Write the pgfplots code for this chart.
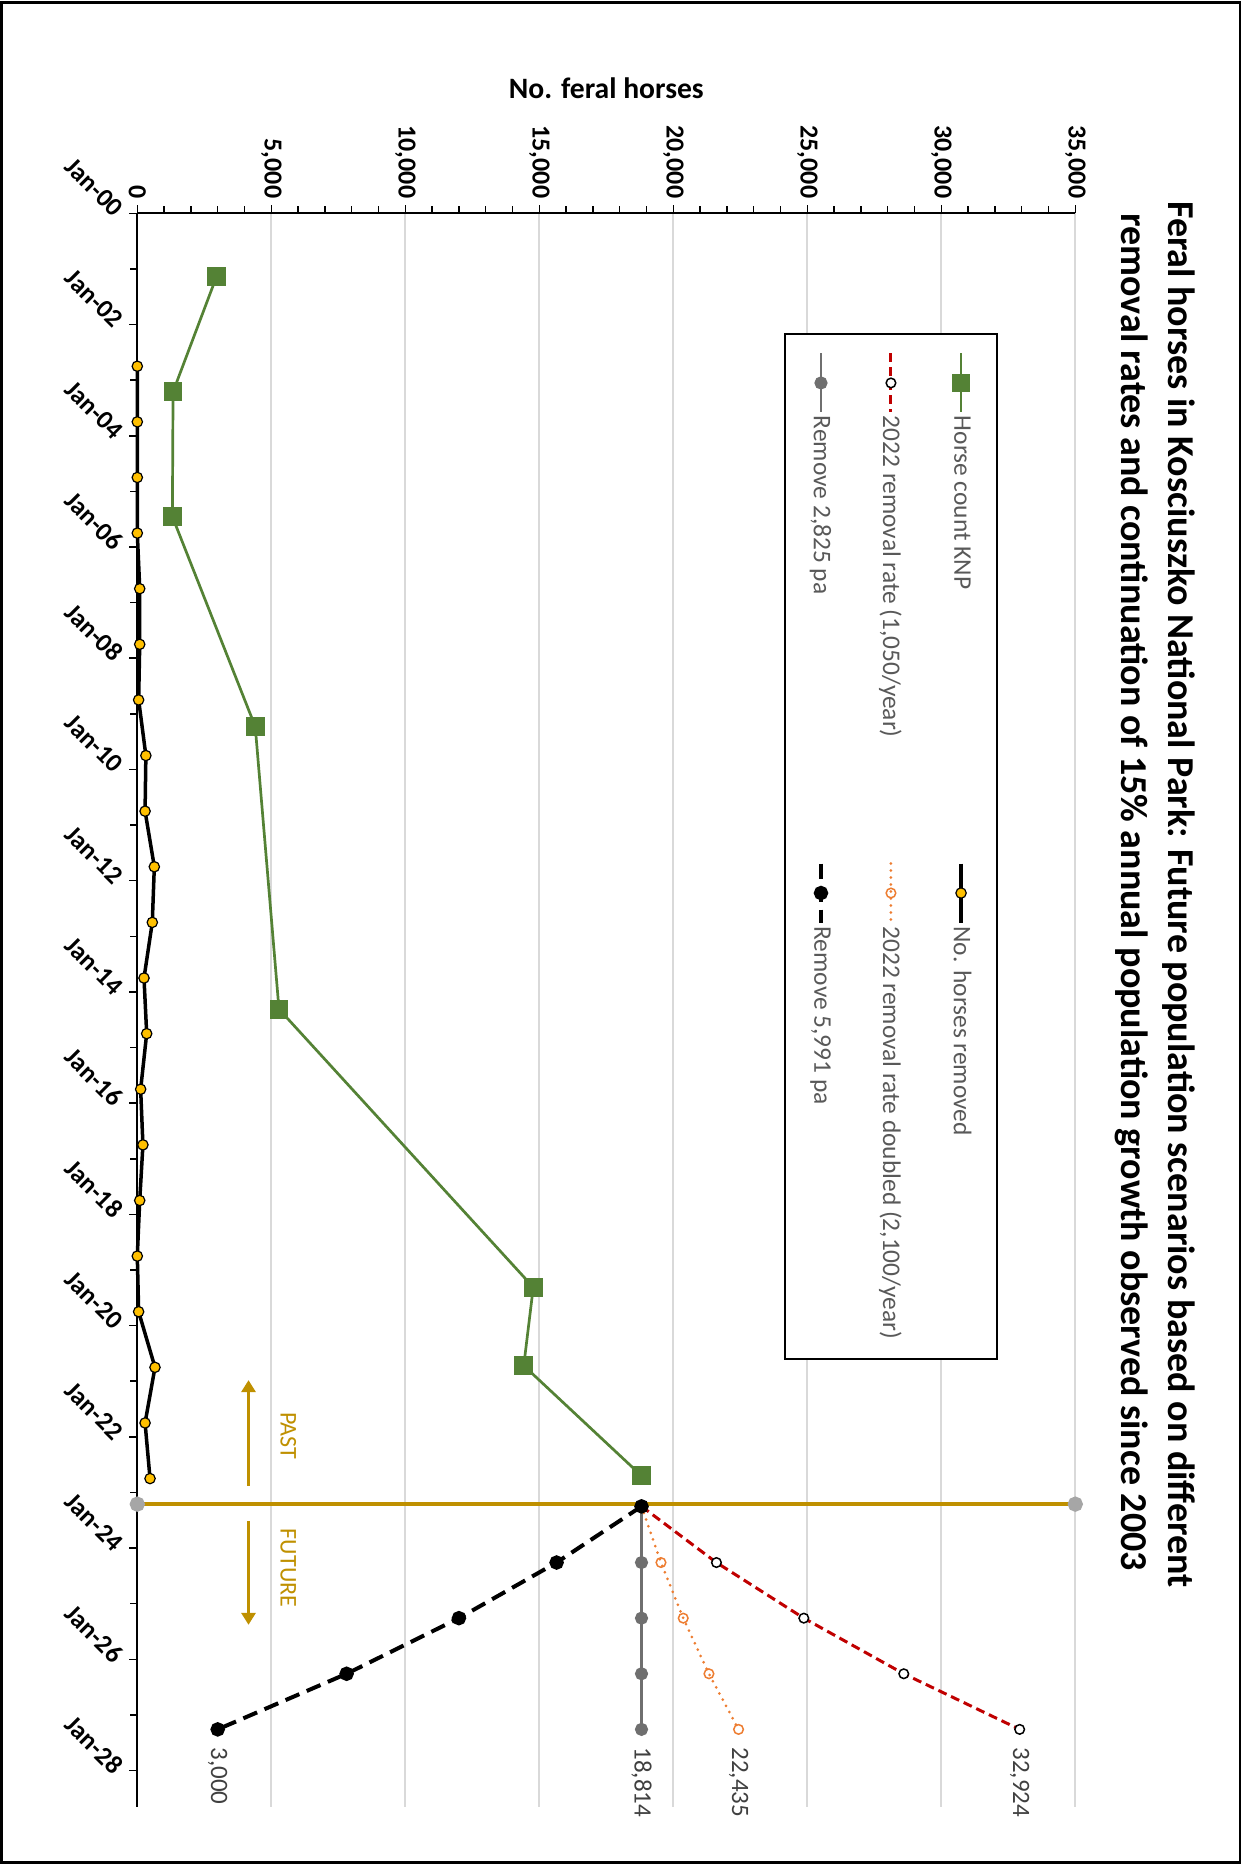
\documentclass[border=0pt]{standalone}
\usepackage{pgfplots}
\usepackage{pgfplotstable}
\pgfplotsset{compat=1.18}
\usepackage{fontspec}
\setmainfont{Carlito}
\usetikzlibrary{arrows.meta}
\definecolor{cgreen}{HTML}{548235}
\definecolor{cyellow}{HTML}{FFC000}
\definecolor{cred}{HTML}{C00000}
\definecolor{corange}{HTML}{ED7D31}
\definecolor{cgray}{HTML}{6F6F6F}
\definecolor{cgold}{HTML}{BF9000}
\definecolor{cgrid}{HTML}{D9D9D9}
\definecolor{cleg}{HTML}{595959}
\definecolor{clab}{HTML}{404040}
\definecolor{cdot}{HTML}{A6A6A6}

\pgfplotstableread{
date val
1.14 2955
3.21 1334
5.455 1309
9.23 4401
14.31 5287
19.31 14775
20.72 14420
22.70 18814
}\horsecount

\pgfplotstableread{
date val
2.75 0
3.75 0
4.75 0
5.75 0
6.75 90
7.75 90
8.75 50
9.75 320
10.75 290
11.75 635
12.75 560
13.75 250
14.75 350
15.75 125
16.75 210
17.75 90
18.75 0
19.75 50
20.75 660
21.75 290
22.75 475
}\removed

\pgfplotstableread{
date val
23.25 18814
24.26 21610
25.26 24870
26.26 28600
27.26 32924
}\redrate

\pgfplotstableread{
date val
23.25 18814
24.26 19540
25.26 20370
26.26 21330
27.26 22435
}\orangerate

\pgfplotstableread{
date val
23.25 18814
24.26 18814
25.26 18814
26.26 18814
27.26 18814
}\grayrate

\pgfplotstableread{
date val
23.25 18814
24.26 15645
25.26 12001
26.26 7810
27.26 3000
}\blackrate

\pgfplotstableread{
date val
23.21 0
23.21 35000
}\divider

\newcommand\tickfont{\fontsize{13}{15}\selectfont\bfseries}
\newcommand\legfont{\fontsize{12.7}{15}\selectfont}
\newcommand\labfont{\fontsize{12.5}{15}\selectfont}

\begin{document}
\begin{tikzpicture}
\useasboundingbox (0,0) rectangle (623.5pt,932.5pt);
\draw[line width=1.3pt] (0.65pt,1.15pt) rectangle (620pt,931.2pt);
\begin{scope}[transform canvas={shift={(0pt,932.5pt)},rotate=-90}]
\begin{axis}[
  at={(106.65pt,68.65pt)}, anchor=south west,
  width=796.7pt, height=469pt, scale only axis,
  xmin=0, xmax=28.65, ymin=0, ymax=35000,
  axis x line=bottom, axis y line=left,
  axis line style={-, line width=1pt, black},
  xtick={0,2,...,28},
  xticklabels={Jan-00,Jan-02,Jan-04,Jan-06,Jan-08,Jan-10,Jan-12,Jan-14,Jan-16,Jan-18,Jan-20,Jan-22,Jan-24,Jan-26,Jan-28},
  minor xtick={1,3,...,27},
  ytick={0,5000,...,35000},
  minor y tick num=4,
  tick align=outside,
  major tick length=4pt, minor tick length=3.5pt,
  tick style={black, line width=0.75pt},
  ymajorgrids, major grid style={cgrid, line width=0.9pt},
  scaled y ticks=false,
  /pgf/number format/assume math mode=true,
  yticklabel style={font=\tickfont, /pgf/number format/fixed, /pgf/number format/1000 sep={,}},
  xticklabel style={font=\tickfont, xshift=1.9pt, yshift=-2.8pt, rotate=45, anchor=east},
  ylabel={No. feral horses},
  ylabel style={at={(axis description cs:-0.0788,0.5)}, anchor=center, font=\fontsize{14.8}{17}\selectfont\bfseries},
  clip=false,
  legend columns=2,
  legend cell align=left,
  legend image code/.code={\draw[mark repeat=2,mark phase=2,#1] plot coordinates {(0pt,0pt) (14.75pt,0pt) (29.5pt,0pt)};},
  legend style={at={(axis description cs:0.0751,0.918)}, anchor=north west,
    draw=black, line width=1pt, font=\legfont, text=cleg,
    inner xsep=9pt, inner ysep=11pt, row sep=20.5pt,
    nodes={inner xsep=1pt},
    /tikz/every even column/.append style={column sep=61pt}},
]
\addplot[forget plot, cgold, line width=2pt, mark=*, mark size=2.8pt, mark options={draw=cdot, fill=cdot}] table[x=date,y=val] {\divider};

\addplot[cgreen, line width=1.35pt, mark=square*, mark size=4pt, mark options={fill=cgreen, draw=cgreen}] table[x=date,y=val] {\horsecount};
\addlegendentry{Horse count KNP}

\addplot[black, line width=1.75pt, mark=*, mark size=2.6pt, mark options={fill=cyellow, draw=black, line width=0.6pt}] table[x=date,y=val] {\removed};
\addlegendentry{No. horses removed}

\addplot[cred, line width=1.5pt, dash pattern=on 4.5pt off 2.5pt, mark=*, mark size=2.4pt, mark options={solid, fill=white, draw=black, line width=0.75pt}] table[x=date,y=val] {\redrate};
\addlegendentry{2022 removal rate (1,050/year)}

\addplot[corange, line width=1.5pt, line cap=round, dash pattern=on 0pt off 3.5pt, mark=o, mark size=2.4pt, mark options={solid, draw=corange, line width=0.75pt}] table[x=date,y=val] {\orangerate};
\addlegendentry{2022 removal rate doubled (2,100/year)}

\addplot[cgray, line width=1.35pt, mark=*, mark size=2.6pt, mark options={fill=cgray, draw=cgray}] table[x=date,y=val] {\grayrate};
\addlegendentry{Remove 2,825 pa}

\addplot[black, line width=2pt, dash pattern=on 7.5pt off 4pt, mark=*, mark size=2.6pt, mark options={solid, fill=black, draw=black}] table[x=date,y=val] {\blackrate};
\addlegendentry{Remove 5,991 pa}

\node[anchor=west, xshift=5.5pt, font=\labfont, text=clab] at (axis cs:27.26,3000) {3,000};
\node[anchor=west, xshift=5.5pt, font=\labfont, text=clab] at (axis cs:27.26,18814) {18,814};
\node[anchor=west, xshift=5.5pt, font=\labfont, text=clab] at (axis cs:27.26,22435) {22,435};
\node[anchor=west, xshift=5.5pt, font=\labfont, text=clab] at (axis cs:27.26,32924) {32,924};

\draw[cgold, line width=1.5pt, -{Triangle[width=7pt,length=6pt]}] (axis cs:22.88,4150) -- (axis cs:20.98,4150);
\draw[cgold, line width=1.5pt, -{Triangle[width=7pt,length=6pt]}] (axis cs:23.51,4150) -- (axis cs:25.38,4150);
\node[font=\fontsize{12}{14}\selectfont, text=cgold] at (axis cs:21.98,5634) {PAST};
\node[font=\fontsize{12}{14}\selectfont, text=cgold] at (axis cs:24.36,5634) {FUTURE};
\end{axis}
\node[anchor=base, font=\fontsize{19}{22}\selectfont\bfseries] at (447.1pt,584pt) {Feral horses in Kosciuszko National Park: Future population scenarios based on different};
\node[anchor=base, font=\fontsize{19}{22}\selectfont\bfseries] at (446pt,560.5pt) {removal rates and continuation of 15\% annual population growth observed since 2003};
\end{scope}
\end{tikzpicture}
\end{document}
